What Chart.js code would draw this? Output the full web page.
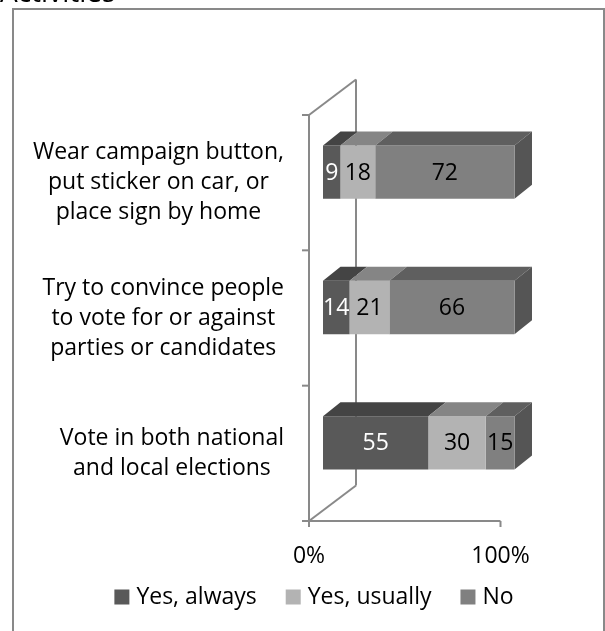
<!DOCTYPE html>
<html>
<head>
<meta charset="utf-8">
<title>Activities</title>
<script src="https://cdn.jsdelivr.net/npm/chart.js@4/dist/chart.umd.min.js"></script>
<style>
  html, body { margin: 0; padding: 0; background: #ffffff; }
  #wrap { width: 605px; height: 631px; position: relative; overflow: hidden; }
</style>
</head>
<body>
<div id="wrap"><canvas id="chart"></canvas></div>
<script>
// Categories (one array of lines per label), top to bottom
const categories = [
  ['Wear campaign button,', 'put sticker on car, or', 'place sign by home'],
  ['Try to convince people', 'to vote for or against', 'parties or candidates'],
  ['Vote in both national', 'and local elections']
];
const seriesNames = ['Yes, always', 'Yes, usually', 'No'];
const yesAlways = [9, 14, 55];
const yesUsually = [18, 21, 30];
const no = [72, 66, 15];
const xTickValues = [0, 100];
const chartTitle = 'Activities';

// Face colours for the 3-D boxes: front, top, right side, label colour
const faceStyles = [
  { front: '#595959', top: '#444444', side: '#3c3c3c', text: '#ffffff' },
  { front: '#b3b3b3', top: '#858585', side: '#7b7b7b', text: '#000000' },
  { front: '#808080', top: '#5f5f5f', side: '#555555', text: '#000000' }
];

// Oblique projection offsets
const proj = {
  frontDx: -14, frontDy: 10.5,   // from bar front faces to the front wall plane
  wallDx: 47, wallDy: -35.5,     // wall depth
  barDx: 17.5, barDy: -14        // bar depth
};

const FONT = '"Open Sans", "Noto Sans", sans-serif';
const FONT_SIZE = 23;
const LINE_COLOR = '#898989';

// 100% stacked: each segment is its share of the row total
const seriesData = [yesAlways, yesUsually, no];
const rowTotals = categories.map((_, i) => seriesData.reduce((s, arr) => s + arr[i], 0));
const shares = seriesData.map(arr => arr.map((v, i) => v / rowTotals[i] * 100));

function line(ctx, x1, y1, x2, y2) {
  ctx.beginPath();
  ctx.moveTo(x1, y1);
  ctx.lineTo(x2, y2);
  ctx.stroke();
}
function poly(ctx, pts) {
  ctx.beginPath();
  ctx.moveTo(pts[0][0], pts[0][1]);
  for (let i = 1; i < pts.length; i++) ctx.lineTo(pts[i][0], pts[i][1]);
  ctx.closePath();
  ctx.fill();
}

// Page frame and the title above it
const framePlugin = {
  id: 'frame',
  beforeDraw(chart) {
    const ctx = chart.ctx;
    ctx.save();
    ctx.fillStyle = '#ffffff';
    ctx.fillRect(0, 0, chart.width, chart.height);
    ctx.strokeStyle = LINE_COLOR;
    ctx.lineWidth = 2;
    ctx.strokeRect(13, 9, 591, 640);
    ctx.fillStyle = '#000000';
    ctx.font = '28px ' + FONT;
    ctx.textAlign = 'left';
    ctx.textBaseline = 'alphabetic';
    ctx.fillText(chartTitle, 0, 2);
    ctx.restore();
  }
};

// Side wall, axis lines, ticks and axis labels
const wallsPlugin = {
  id: 'walls',
  beforeDatasetsDraw(chart) {
    const ctx = chart.ctx;
    const xs = chart.scales.x, ys = chart.scales.y;
    const { top, bottom } = chart.chartArea;
    const fx0 = xs.getPixelForValue(xTickValues[0]) + proj.frontDx;
    const fxEnd = xs.getPixelForValue(xTickValues[xTickValues.length - 1]) + proj.frontDx;
    const ft = top + proj.frontDy, fb = bottom + proj.frontDy;
    ctx.save();
    ctx.strokeStyle = LINE_COLOR;
    ctx.lineWidth = 2;
    ctx.lineCap = 'butt';
    // side wall outline
    line(ctx, fx0, ft, fx0, fb);
    line(ctx, fx0 + proj.wallDx, ft + proj.wallDy, fx0 + proj.wallDx, fb + proj.wallDy);
    line(ctx, fx0, ft, fx0 + proj.wallDx, ft + proj.wallDy);
    line(ctx, fx0, fb, fx0 + proj.wallDx, fb + proj.wallDy);
    // category boundary ticks
    const n = categories.length;
    for (let i = 0; i <= n; i++) {
      const by = ft + (fb - ft) * i / n;
      line(ctx, fx0 - 7, by, fx0, by);
    }
    // value axis
    line(ctx, fx0, fb, fxEnd, fb);
    ctx.fillStyle = '#000000';
    ctx.font = FONT_SIZE + 'px ' + FONT;
    ctx.textAlign = 'center';
    ctx.textBaseline = 'middle';
    xTickValues.forEach(v => {
      const px = xs.getPixelForValue(v) + proj.frontDx;
      line(ctx, px, fb, px, fb + 6);
      ctx.fillText(v + '%', px, fb + 35);
    });
    // category labels: block right-aligned, lines centred in the block
    const lineH = 30;
    categories.forEach((lines, i) => {
      const cy = ys.getPixelForValue(i) + proj.frontDy;
      const w = Math.max(...lines.map(t => ctx.measureText(t).width));
      const cx = fx0 - 25 - w / 2;
      lines.forEach((t, k) => {
        ctx.fillText(t, cx, cy + (k - (lines.length - 1) / 2) * lineH);
      });
    });
    ctx.restore();
  },
  afterDatasetsDraw(chart) {
    const ctx = chart.ctx;
    const nSets = chart.data.datasets.length;
    ctx.save();
    // top faces and right side of each box
    chart.data.datasets.forEach((ds, di) => {
      const meta = chart.getDatasetMeta(di);
      meta.data.forEach(bar => {
        const p = bar.getProps(['x', 'y', 'base', 'height'], true);
        const x1 = Math.min(p.base, p.x), x2 = Math.max(p.base, p.x);
        const yt = p.y - p.height / 2, yb = p.y + p.height / 2;
        ctx.fillStyle = faceStyles[di].top;
        poly(ctx, [[x1, yt], [x2, yt], [x2 + proj.barDx, yt + proj.barDy], [x1 + proj.barDx, yt + proj.barDy]]);
        if (di === nSets - 1) {
          ctx.fillStyle = faceStyles[di].side;
          poly(ctx, [[x2, yt], [x2 + proj.barDx, yt + proj.barDy], [x2 + proj.barDx, yb + proj.barDy], [x2, yb]]);
        }
      });
    });
    // value labels on the front faces
    ctx.font = FONT_SIZE + 'px ' + FONT;
    ctx.textAlign = 'center';
    ctx.textBaseline = 'middle';
    chart.data.datasets.forEach((ds, di) => {
      const meta = chart.getDatasetMeta(di);
      meta.data.forEach((bar, i) => {
        const p = bar.getProps(['x', 'y', 'base'], true);
        ctx.fillStyle = faceStyles[di].text;
        ctx.fillText(String(seriesData[di][i]), (p.x + p.base) / 2, p.y + 1);
      });
    });
    ctx.restore();
  },
  afterDraw(chart) {
    // legend along the bottom
    const ctx = chart.ctx;
    ctx.save();
    ctx.font = FONT_SIZE + 'px ' + FONT;
    ctx.textBaseline = 'middle';
    ctx.textAlign = 'left';
    const box = 15, gap = 7, spacing = 29;
    const widths = seriesNames.map(s => ctx.measureText(s).width);
    const total = widths.reduce((a, w) => a + box + gap + w, 0) + spacing * (seriesNames.length - 1);
    let lx = 314 - total / 2;
    const ly = 597;
    seriesNames.forEach((s, i) => {
      ctx.fillStyle = faceStyles[i].front;
      ctx.fillRect(lx, ly - box / 2, box, box);
      ctx.fillStyle = '#000000';
      ctx.fillText(s, lx + box + gap, ly);
      lx += box + gap + widths[i] + spacing;
    });
    ctx.restore();
  }
};

new Chart(document.getElementById('chart'), {
  type: 'bar',
  data: {
    labels: categories,
    datasets: seriesNames.map((name, i) => ({
      label: name,
      data: shares[i],
      backgroundColor: faceStyles[i].front,
      borderWidth: 0,
      categoryPercentage: 1,
      barPercentage: 0.394
    }))
  },
  options: {
    indexAxis: 'y',
    responsive: true,
    maintainAspectRatio: false,
    animation: false,
    devicePixelRatio: 1,
    layout: { padding: { left: 323, right: 90.5, top: 104.5, bottom: 120.5 } },
    scales: {
      x: { stacked: true, min: 0, max: 100, display: false },
      y: { stacked: true, display: false }
    },
    plugins: {
      legend: { display: false },
      tooltip: { enabled: false },
      title: { display: false }
    }
  },
  plugins: [framePlugin, wallsPlugin]
});
</script>
</body>
</html>
